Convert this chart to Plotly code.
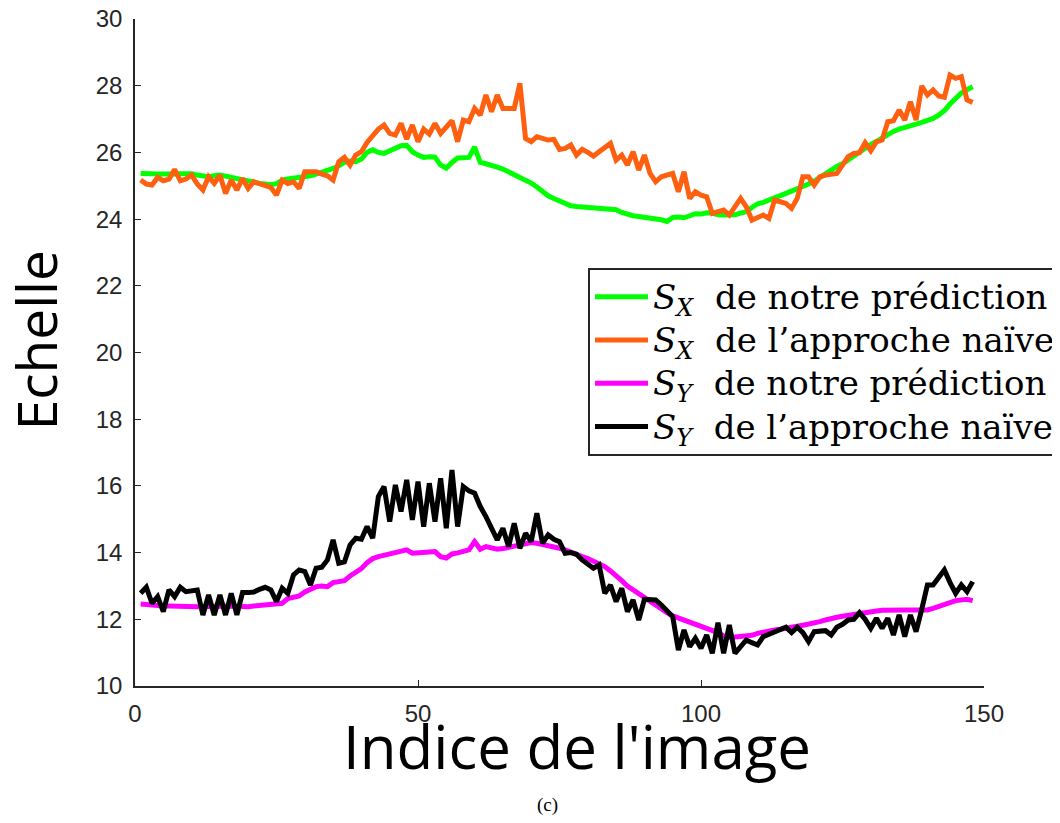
import plotly.graph_objects as go

x_idx = list(range(1, 149))

sx_pred = [25.37, 25.38, 25.36, 25.35, 25.34, 25.33, 25.35, 25.36, 25.37, 25.36,
           25.32, 25.28, 25.27, 25.30, 25.32, 25.29, 25.25, 25.22, 25.18, 25.13,
           25.09, 25.07, 25.05, 25.03, 25.06, 25.17, 25.20, 25.22, 25.25, 25.27,
           25.30, 25.35, 25.40, 25.45, 25.52, 25.60, 25.70, 25.74, 25.72, 25.80,
           26.00, 26.08, 26.00, 25.97, 26.05, 26.12, 26.20, 26.21, 26.02, 25.92,
           25.85, 25.87, 25.86, 25.62, 25.53, 25.70, 25.83, 25.84, 25.85, 26.16,
           25.70, 25.66, 25.62, 25.56, 25.50, 25.42, 25.36, 25.28, 25.18, 25.08,
           24.96, 24.82, 24.70, 24.62, 24.55, 24.45, 24.40, 24.38, 24.37, 24.36,
           24.35, 24.34, 24.33, 24.32, 24.28, 24.20, 24.14, 24.10, 24.08, 24.06,
           24.05, 24.02, 23.98, 23.93, 24.05, 24.06, 24.04, 24.10, 24.16, 24.15,
           24.19, 24.18, 24.13, 24.12, 24.12, 24.13, 24.18, 24.22, 24.35, 24.46,
           24.50, 24.56, 24.62, 24.70, 24.77, 24.84, 24.90, 24.97, 25.05, 25.14,
           25.25, 25.38, 25.48, 25.58, 25.66, 25.78, 25.90, 26.02, 26.15, 26.24,
           26.33, 26.43, 26.55, 26.63, 26.70, 26.76, 26.80, 26.85, 26.90, 26.95,
           27.02, 27.12, 27.25, 27.45, 27.62, 27.78, 27.88, 27.97]

sx_naive = [25.17, 25.05, 25.02, 25.25, 25.15, 25.20, 25.49, 25.15, 25.20, 25.32,
            25.05, 24.87, 25.27, 25.07, 25.32, 24.77, 25.17, 24.87, 25.22, 24.92,
            25.12, 25.07, 25.02, 24.95, 24.72, 25.17, 25.07, 25.12, 24.92, 25.42,
            25.42, 25.42, 25.35, 25.30, 25.17, 25.72, 25.85, 25.62, 25.92, 26.02,
            26.30, 26.52, 26.70, 26.82, 26.57, 26.52, 26.87, 26.40, 26.82, 26.32,
            26.70, 26.55, 26.87, 26.57, 26.75, 26.95, 26.32, 26.97, 26.92, 27.32,
            27.12, 27.72, 27.22, 27.72, 27.32, 27.32, 27.32, 28.07, 26.42, 26.32,
            26.47, 26.42, 26.37, 26.39, 26.09, 26.12, 26.22, 25.92, 26.09, 26.00,
            25.89, 26.02, 26.15, 26.27, 25.77, 25.92, 25.62, 26.02, 25.47, 25.92,
            25.37, 25.12, 25.27, 25.32, 25.37, 24.82, 25.42, 24.62, 24.82, 24.72,
            24.67, 24.17, 24.22, 24.27, 24.12, 24.40, 24.62, 24.37, 23.97, 24.05,
            24.12, 24.02, 24.57, 24.52, 24.47, 24.32, 24.62, 25.27, 25.27, 25.02,
            25.27, 25.32, 25.35, 25.37, 25.62, 25.87, 25.97, 25.99, 26.29, 26.05,
            26.32, 26.37, 26.92, 26.95, 27.27, 26.97, 27.52, 26.97, 27.99, 27.72,
            27.87, 27.69, 27.65, 28.32, 28.22, 28.27, 27.57, 27.50]

sy_pred = [12.46, 12.44, 12.42, 12.41, 12.40, 12.40, 12.39, 12.39, 12.38, 12.38,
           12.38, 12.38, 12.39, 12.40, 12.40, 12.40, 12.40, 12.39, 12.38, 12.38,
           12.40, 12.42, 12.43, 12.45, 12.47, 12.48, 12.62, 12.66, 12.70, 12.82,
           12.90, 12.98, 13.00, 12.98, 13.10, 13.14, 13.16, 13.30, 13.42, 13.52,
           13.70, 13.82, 13.88, 13.92, 13.95, 14.02, 14.05, 14.08, 13.98, 14.00,
           14.03, 14.02, 14.03, 13.88, 13.84, 13.96, 13.99, 14.02, 14.08, 14.33,
           14.10, 14.18, 14.14, 14.10, 14.12, 14.15, 14.18, 14.22, 14.26, 14.30,
           14.28, 14.25, 14.22, 14.17, 14.13, 14.08, 14.00, 13.94, 13.88, 13.82,
           13.75, 13.68, 13.58, 13.45, 13.32, 13.16, 13.00, 12.88, 12.76, 12.65,
           12.52, 12.44, 12.30, 12.20, 12.10, 12.04, 11.97, 11.91, 11.88, 11.82,
           11.75, 11.68, 11.60, 11.50, 11.46, 11.47, 11.48, 11.50, 11.52, 11.58,
           11.62, 11.65, 11.68, 11.70, 11.72, 11.76, 11.79, 11.82, 11.85, 11.88,
           11.93, 11.98, 12.03, 12.06, 12.09, 12.12, 12.16, 12.18, 12.20, 12.23,
           12.25, 12.27, 12.28, 12.28, 12.28, 12.28, 12.28, 12.28, 12.27, 12.28,
           12.33, 12.40, 12.46, 12.50, 12.56, 12.58, 12.60, 12.56]

sy_naive = [12.78, 12.96, 12.48, 12.68, 12.23, 12.88, 12.68, 12.96, 12.83, 12.86,
            12.88, 12.13, 12.73, 12.13, 12.73, 12.13, 12.78, 12.13, 12.80, 12.80,
            12.82, 12.90, 12.96, 12.88, 12.53, 12.93, 12.78, 13.33, 13.48, 13.43,
            13.03, 13.53, 13.56, 13.78, 14.38, 13.68, 13.72, 14.23, 14.43, 14.40,
            14.78, 14.43, 15.68, 15.98, 14.93, 16.03, 15.23, 16.18, 14.98, 16.13,
            14.78, 16.08, 14.93, 16.23, 14.73, 16.48, 14.78, 15.98, 15.85, 15.78,
            15.38, 15.08, 14.70, 14.38, 14.73, 14.18, 14.88, 14.13, 14.58, 14.33,
            15.18, 14.28, 14.53, 14.40, 14.33, 13.98, 14.00, 13.95, 13.78, 13.65,
            13.53, 13.63, 12.78, 13.03, 12.53, 12.93, 12.23, 12.58, 11.98, 12.60,
            12.60, 12.58, 12.43, 12.25, 12.08, 11.08, 11.68, 11.18, 11.43, 11.13,
            11.53, 10.98, 11.90, 10.98, 11.83, 10.98, 11.20, 11.38, 11.30, 11.23,
            11.48, 11.55, 11.60, 11.68, 11.76, 11.60, 11.76, 11.60, 11.33, 11.63,
            11.64, 11.66, 11.53, 11.76, 11.85, 11.98, 12.00, 12.20, 12.00, 11.73,
            12.03, 11.73, 12.03, 11.53, 12.13, 11.48, 12.13, 11.63, 12.30, 13.03,
            13.03, 13.25, 13.48, 13.10, 12.78, 13.03, 12.83, 13.13]

x_ticks = [0, 50, 100, 150]
y_ticks = [10, 12, 14, 16, 18, 20, 22, 24, 26, 28, 30]

NB = "\u00a0"


def leg(sub, txt):
    return ("<span style='font-size:34px'><i>S</i><sub><i>" + sub + "</i></sub>"
            + NB * 2 + txt + "</span>")


series = [
    (sx_pred, "#00FF00", leg("X", "de notre prédiction")),
    (sx_naive, "#FF6010", leg("X", "de l’approche naïve")),
    (sy_pred, "#FF00FF", leg("Y", "de notre prédiction")),
    (sy_naive, "#000000", leg("Y", "de l’approche naïve")),
]

fig = go.Figure()
for vals, col, name in series:
    fig.add_trace(go.Scatter(x=x_idx, y=vals, mode="lines", name=name,
                             line=dict(color=col, width=5)))

axcol = "#262626"
fig.update_layout(
    width=1052, height=815,
    margin=dict(l=127, r=76, t=11, b=137, autoexpand=False),
    paper_bgcolor="white", plot_bgcolor="white",
    showlegend=True,
    legend=dict(x=0.5336, y=0.6267, xanchor="left", yanchor="top",
                bgcolor="white", bordercolor=axcol, borderwidth=2,
                font=dict(family="DejaVu Serif", size=31, color="#000000"),
                itemwidth=53, tracegroupgap=0),
    xaxis=dict(range=[0, 150], tickvals=x_ticks, showgrid=False, zeroline=False,
               showline=True, linecolor=axcol, linewidth=1.5,
               ticks="inside", ticklen=6, tickcolor=axcol, tickwidth=1.2,
               ticklabelstandoff=5, automargin=False, ticklabeloverflow="allow",
               tickfont=dict(family="Liberation Sans", size=24, color=axcol)),
    yaxis=dict(range=[10, 30], tickvals=y_ticks, showgrid=False, zeroline=False,
               showline=True, linecolor=axcol, linewidth=1.5,
               ticks="inside", ticklen=6, tickcolor=axcol, tickwidth=1.2,
               ticklabelstandoff=6, automargin=False, ticklabeloverflow="allow",
               tickfont=dict(family="Liberation Sans", size=24, color=axcol)),
    annotations=[
        dict(text="Indice de l'image", xref="paper", yref="paper",
             x=0.5212, y=-0.0907, xanchor="center", yanchor="middle",
             showarrow=False, font=dict(family="Open Sans", size=60, color="#000000")),
        dict(text="Echelle", xref="paper", yref="paper",
             x=-0.1172, y=0.519, xanchor="center", yanchor="middle", textangle=-90,
             showarrow=False, font=dict(family="Open Sans", size=55, color="#000000")),
        dict(text="(c)", xref="paper", yref="paper",
             x=0.4864, y=-0.178, xanchor="center", yanchor="middle",
             showarrow=False, font=dict(family="Liberation Serif", size=19, color="#000000")),
    ],
)

fig.write_html("out.html")
